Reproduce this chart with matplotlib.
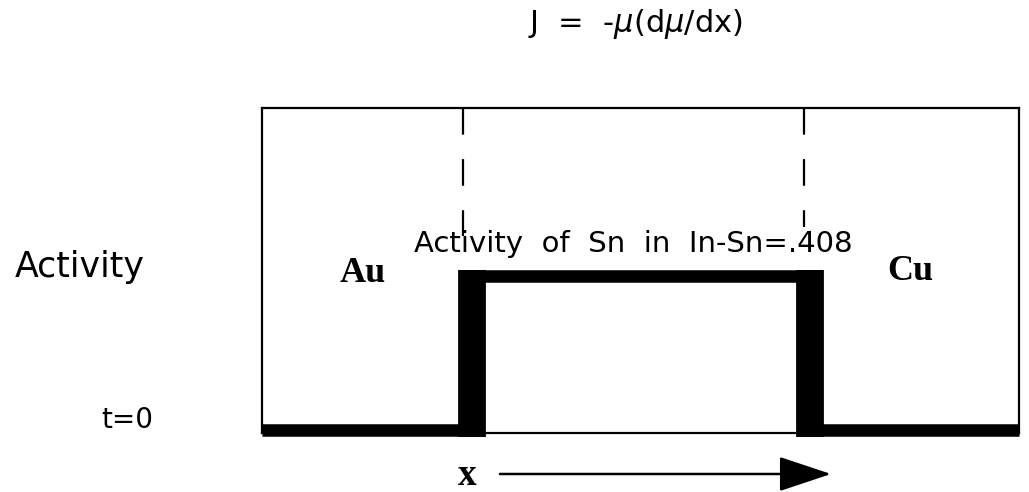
import matplotlib.pyplot as plt
from matplotlib.patches import FancyArrowPatch

# step profile of activity across the joint (box fraction, relative activity)
profile_x = [0.0, 0.277, 0.277, 0.724, 0.724, 1.0]
profile_y = [0.0, 0.0, 1.0, 1.0, 0.0, 0.0]
# the two step edges are drawn heavier
edges_x = [0.277, 0.724]
# dashed interface markers (x, lower end)
interface_x = [0.265, 0.716]
interface_bottom = [1.26, 1.32]

W, H = 1029, 492
fig = plt.figure(figsize=(W / 100, H / 100), dpi=100)

def px(x, y):
    # pixel position -> figure fraction
    return x / W, 1 - y / H

# main box
left, top = px(262, 108)
right, bottom = px(1019, 433)
ax = fig.add_axes([left, bottom, right - left, top - bottom])
ax.set_xlim(0, 1)
ax.set_ylim(-0.02, 2.09)
ax.set_xticks([])
ax.set_yticks([])
for s in ax.spines.values():
    s.set_linewidth(1.6)

ax.plot(profile_x, profile_y, color='black', lw=9, solid_joinstyle='miter',
        solid_capstyle='butt', clip_on=False)
for ex in edges_x:
    ax.plot([ex, ex], [-0.045, 1.04], color='black', lw=20,
            solid_capstyle='butt', clip_on=False)
for ix, ib in zip(interface_x, interface_bottom):
    ax.plot([ix, ix], [2.09, ib], color='black', lw=1.6,
            dashes=(12, 11), clip_on=False)

# text
sans = dict(family='DejaVu Sans', ha='center', va='baseline')
serif = dict(family='Liberation Serif', fontweight='bold', ha='center',
             va='baseline')
fig.text(*px(635, 32), 'J  =  -$\\mu$(d$\\mu$/dx)', fontsize=22, **sans)
fig.text(*px(80, 277), 'Activity', fontsize=25, **sans)
fig.text(*px(127, 428), 't=0', fontsize=20, **sans)
fig.text(*px(633, 252), 'Activity  of  Sn  in  In-Sn=.408', fontsize=21,
         **sans)
fig.text(*px(363, 282), 'Au', fontsize=26, **serif)
fig.text(*px(910, 280), 'Cu', fontsize=26, **serif)
fig.text(*px(467, 485), 'x', fontsize=27, **serif)

# direction arrow
fig.add_artist(FancyArrowPatch(
    px(500, 474), px(831, 474), transform=fig.transFigure,
    arrowstyle='-|>,head_length=1.65,head_width=0.55', mutation_scale=20,
    lw=1.8, color='black', shrinkA=0, shrinkB=0))

plt.savefig('out.png')
